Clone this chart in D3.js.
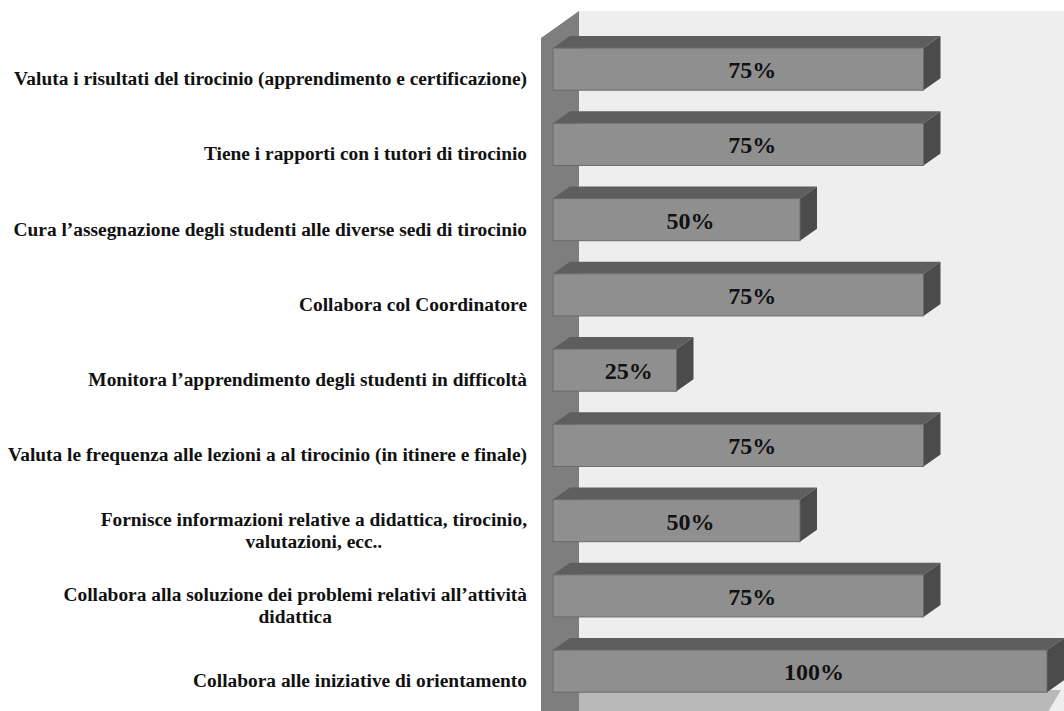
<!DOCTYPE html>
<html>
<head>
<meta charset="utf-8">
<script src="https://cdn.jsdelivr.net/npm/d3@7"></script>
<style>
  html, body { margin: 0; padding: 0; background: #ffffff; }
  svg { display: block; }
</style>
</head>
<body>
<svg id="chart" width="1064" height="711"></svg>
<script>
// Compiti del tutor: quota di risposte per ciascuna attività
const categories = [
  ["Valuta i risultati del tirocinio (apprendimento e certificazione)"],
  ["Tiene i rapporti con i tutori di tirocinio"],
  ["Cura l\u2019assegnazione degli studenti alle diverse sedi di tirocinio"],
  ["Collabora col Coordinatore"],
  ["Monitora l\u2019apprendimento degli studenti in difficoltà"],
  ["Valuta le frequenza alle lezioni a al tirocinio (in itinere e finale)"],
  ["Fornisce informazioni relative a didattica, tirocinio,", "valutazioni, ecc.."],
  ["Collabora alla soluzione dei problemi relativi all\u2019attività", "didattica"],
  ["Collabora alle iniziative di orientamento"]
];
const values = [75, 75, 50, 75, 25, 75, 50, 75, 100];
const valueLabels = ["75%", "75%", "50%", "75%", "25%", "75%", "50%", "75%", "100%"];

const W = 1064, H = 711;
const svg = d3.select("#chart");

// 3D depth of the bars (oblique projection)
const DX = 17, DY = -12;
// depth of the whole plot box (walls / floor)
const WX = 38, WY = -27;

const x = d3.scaleLinear().domain([0, 100]).range([553, 1047]);
const ids = d3.range(categories.length);
const y = d3.scaleBand().domain(ids).range([31.5, 708.75])
  .paddingInner(0.44).paddingOuter(0.22);

const wallLeft = 541, wallTop = 38, floorY = 690;

// back wall
svg.append("polygon")
  .attr("points", [[wallLeft + WX, wallTop + WY], [W, wallTop + WY], [W, H], [wallLeft + WX, H]].join(" "))
  .attr("fill", "#eeeeee");

// floor
svg.append("polygon")
  .attr("points", [[wallLeft + WX, floorY], [1061, floorY], [1045, floorY - WY], [wallLeft, floorY - WY]].join(" "))
  .attr("fill", "#b9b9b9");

// left side wall
svg.append("polygon")
  .attr("points", [[wallLeft, wallTop], [wallLeft + WX, wallTop + WY], [wallLeft + WX, H], [wallLeft, H]].join(" "))
  .attr("fill", "#7e7e7e");

// bars
const bars = svg.append("g").selectAll("g").data(ids).join("g");

bars.append("polygon") // top face
  .attr("points", i => {
    const x0 = x(0), x1 = x(values[i]), t = y(i);
    return [[x0, t], [x0 + DX, t + DY], [x1 + DX, t + DY], [x1, t]].join(" ");
  })
  .attr("fill", "#5e5e5e");

bars.append("polygon") // side face
  .attr("points", i => {
    const x1 = x(values[i]), t = y(i), b = t + y.bandwidth();
    return [[x1, t], [x1 + DX, t + DY], [x1 + DX, b + DY], [x1, b]].join(" ");
  })
  .attr("fill", "#4b4b4b");

bars.append("rect") // front face
  .attr("x", x(0))
  .attr("y", i => y(i))
  .attr("width", i => x(values[i]) - x(0))
  .attr("height", y.bandwidth())
  .attr("fill", "#8f8f8f")
  .attr("stroke", "#6a6a6a")
  .attr("stroke-width", 1);

// value labels
bars.append("text")
  .attr("x", i => (x(0) + x(values[i])) / 2 + 14)
  .attr("y", i => y(i) + y.bandwidth() / 2 + 1)
  .attr("text-anchor", "middle")
  .attr("dominant-baseline", "central")
  .attr("font-family", "'Liberation Serif', 'Times New Roman', serif")
  .attr("font-weight", "bold")
  .attr("font-size", 24)
  .attr("fill", "#111")
  .text(i => valueLabels[i]);

// category labels: each block right-aligned, lines centred inside the block
const labelRight = 527, lineH = 22;
const labels = svg.append("g")
  .attr("font-family", "'Liberation Serif', 'Times New Roman', serif")
  .attr("font-weight", "bold")
  .attr("font-size", 19.4)
  .attr("fill", "#111");

ids.forEach(i => {
  const lines = categories[i];
  const cy = y(i) + y.bandwidth() / 2 + 9;
  const t = labels.append("text")
    .attr("text-anchor", "middle")
    .attr("dominant-baseline", "central");
  lines.forEach((ln, k) => {
    t.append("tspan")
      .attr("y", cy + (k - (lines.length - 1) / 2) * lineH)
      .text(ln);
  });
  let maxW = 0;
  t.selectAll("tspan").each(function () { maxW = Math.max(maxW, this.getComputedTextLength()); });
  t.selectAll("tspan").attr("x", labelRight - maxW / 2);
});
</script>
</body>
</html>
